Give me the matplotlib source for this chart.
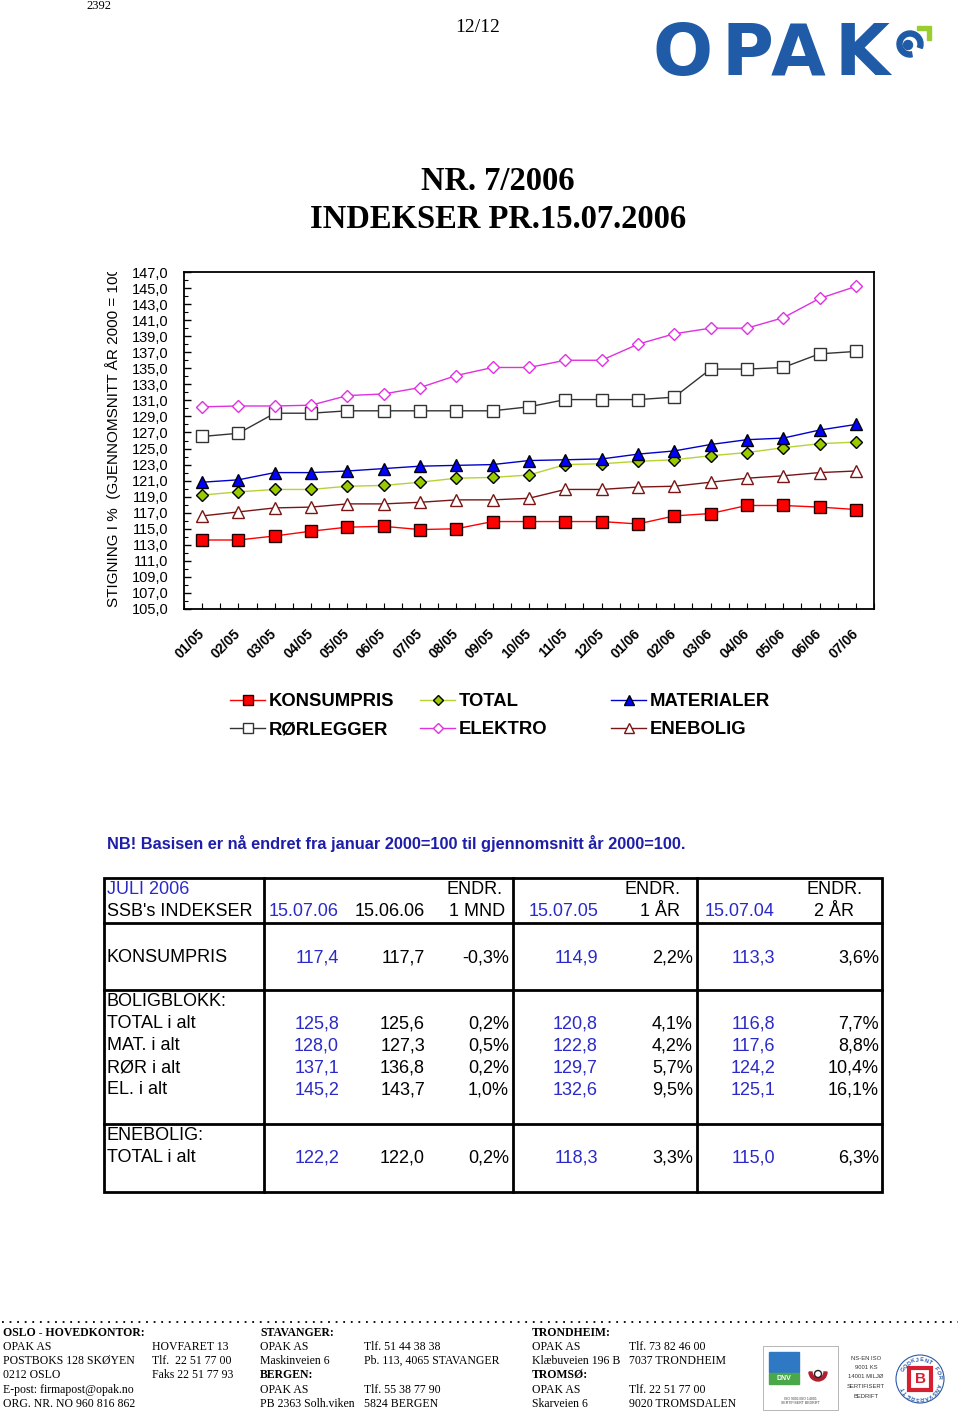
import matplotlib
matplotlib.use('Agg')
import matplotlib.pyplot as plt
import matplotlib.transforms as mtransforms
from matplotlib.patches import Rectangle, Circle, Wedge, Polygon
from matplotlib.ticker import MultipleLocator, FixedLocator
import numpy as np

# ---------------- data ----------------
months = ['01/05', '02/05', '03/05', '04/05', '05/05', '06/05', '07/05', '08/05', '09/05',
          '10/05', '11/05', '12/05', '01/06', '02/06', '03/06', '04/06', '05/06', '06/06', '07/06']
konsumpris = [113.6, 113.6, 114.1, 114.7, 115.2, 115.3, 114.9, 115.0, 115.9, 115.9,
              115.9, 115.9, 115.6, 116.6, 116.9, 117.9, 117.9, 117.7, 117.4]
total = [119.2, 119.6, 119.9, 119.9, 120.3, 120.4, 120.8, 121.3, 121.4, 121.7,
         123.0, 123.1, 123.4, 123.6, 124.1, 124.5, 125.1, 125.6, 125.8]
materialer = [120.8, 121.1, 122.0, 122.0, 122.2, 122.5, 122.8, 122.9, 123.0, 123.5,
              123.6, 123.7, 124.3, 124.7, 125.5, 126.1, 126.3, 127.3, 128.0]
rorlegger = [126.5, 126.9, 129.4, 129.4, 129.7, 129.7, 129.7, 129.7, 129.7, 130.2,
             131.1, 131.1, 131.1, 131.4, 134.9, 134.9, 135.1, 136.8, 137.1]
elektro = [130.2, 130.3, 130.3, 130.4, 131.6, 131.8, 132.6, 134.1, 135.1, 135.1,
           136.0, 136.0, 138.0, 139.3, 140.0, 140.0, 141.3, 143.7, 145.2]
enebolig = [116.6, 117.1, 117.6, 117.7, 118.1, 118.1, 118.3, 118.6, 118.6, 118.8,
            119.9, 119.9, 120.2, 120.3, 120.8, 121.3, 121.6, 122.0, 122.2]

y_tick_values = [105, 107, 109, 111, 113, 115, 117, 119, 121, 123, 125, 127, 129, 131,
                 133, 135, 137, 139, 141, 143, 145, 147]

# table data
row_labels = ['KONSUMPRIS', 'BOLIGBLOKK:', 'TOTAL i alt', 'MAT. i alt', 'RØR i alt', 'EL. i alt',
              'ENEBOLIG:', 'TOTAL i alt']
val_150706 = ['117,4', '', '125,8', '128,0', '137,1', '145,2', '', '122,2']
val_150606 = ['117,7', '', '125,6', '127,3', '136,8', '143,7', '', '122,0']
chg_1mnd = ['-0,3%', '', '0,2%', '0,5%', '0,2%', '1,0%', '', '0,2%']
val_150705 = ['114,9', '', '120,8', '122,8', '129,7', '132,6', '', '118,3']
chg_1ar = ['2,2%', '', '4,1%', '4,2%', '5,7%', '9,5%', '', '3,3%']
val_150704 = ['113,3', '', '116,8', '117,6', '124,2', '125,1', '', '115,0']
chg_2ar = ['3,6%', '', '7,7%', '8,8%', '10,4%', '16,1%', '', '6,3%']

# ---------------- figure ----------------
W, H = 960, 1418
fig = plt.figure(figsize=(W / 100, H / 100), dpi=100)
fig.patch.set_facecolor('white')

ov = fig.add_axes([0, 0, 1, 1])
ov.set_xlim(0, W)
ov.set_ylim(H, 0)
ov.axis('off')

SANS = 'Liberation Sans'
SERIF = 'Liberation Serif'

# header texts
ov.text(99, 6, '2392', ha='center', va='center', fontsize=9, family=SERIF)
ov.text(478, 27, '12/12', ha='center', va='center', fontsize=14, family=SERIF)

# OPAK logo
logo_col = '#1f5ba6'
for ch, cx in zip(['O', 'P', 'A', 'K'], [683, 747, 798, 862]):
    ov.text(cx, 75, ch, ha='center', va='baseline', fontsize=51, family='DejaVu Sans',
            weight='bold', color=logo_col)
ov.add_patch(Wedge((910, 44), 13, 80, 380, width=5, color=logo_col))
ov.add_patch(Circle((908, 45), 4.5, color=logo_col))
ov.add_patch(Polygon([[917, 26], [931, 26], [931, 40], [927, 40], [927, 30], [917, 30]],
                     closed=True, color='#9acd32'))

# title
ov.text(498, 181, 'NR. 7/2006', ha='center', va='center', fontsize=23.5, family=SERIF, weight='bold')
ov.text(498, 220, 'INDEKSER PR.15.07.2006', ha='center', va='center', fontsize=23.5,
        family=SERIF, weight='bold')

# ---------------- chart ----------------
ax_l, ax_r, ax_t, ax_b = 184, 874, 272, 609
ax = fig.add_axes([ax_l / W, 1 - ax_b / H, (ax_r - ax_l) / W, (ax_b - ax_t) / H])
x = np.arange(len(months))

l_kons, = ax.plot(x, konsumpris, color='#ff0000', lw=1.0, marker='s', ms=8,
                  mfc='#ff0000', mec='#200000', mew=1.0, label='KONSUMPRIS')
l_ror, = ax.plot(x, rorlegger, color='#333333', lw=1.0, marker='s', ms=8,
                 mfc='white', mec='#333333', mew=1.0, label='RØRLEGGER')
l_ele, = ax.plot(x, elektro, color='#e030e0', lw=1.0, marker='D', ms=6,
                 mfc='white', mec='#e030e0', mew=1.0, label='ELEKTRO')
l_ene, = ax.plot(x, enebolig, color='#7a1515', lw=1.0, marker='^', ms=8,
                 mfc='white', mec='#7a1515', mew=1.0, label='ENEBOLIG')
l_tot, = ax.plot(x, total, color='#b5d334', lw=1.0, marker='D', ms=6,
                 mfc='#99cc00', mec='black', mew=1.0, label='TOTAL')
l_mat, = ax.plot(x, materialer, color='#0000cc', lw=1.0, marker='^', ms=8,
                 mfc='#0000ff', mec='black', mew=1.0, label='MATERIALER')

ax.set_xlim(-0.5, len(months) - 0.5)
ax.set_ylim(105, 147)
ax.set_yticks(y_tick_values)
ax.set_yticklabels([f'{v:.1f}'.replace('.', ',') for v in y_tick_values], family=SANS, fontsize=10.5)
ax.yaxis.set_minor_locator(MultipleLocator(1))
ax.set_xticks(x)
ax.set_xticklabels(months, rotation=45, ha='right', va='center', rotation_mode='anchor',
                   family=SANS, fontsize=10, weight='bold')
shift = mtransforms.ScaledTranslation(-5 / 100, 0, fig.dpi_scale_trans)
for lbl in ax.get_xticklabels():
    lbl.set_transform(lbl.get_transform() + shift)
ax.xaxis.set_minor_locator(FixedLocator(np.arange(len(months) + 1) - 0.5))
ax.tick_params(axis='y', which='major', direction='in', length=5, width=1, pad=11)
ax.tick_params(axis='y', which='minor', direction='in', length=3, width=0.8)
ax.tick_params(axis='x', which='major', direction='in', length=4, width=0.8, pad=16)
ax.tick_params(axis='x', which='minor', direction='in', length=4, width=0.8)
for s in ax.spines.values():
    s.set_linewidth(1.3)
    s.set_color('black')

# y-label (clipped like in the original)
lab_ax = fig.add_axes([100 / W, 1 - ax_b / H, 28 / W, (ax_b - ax_t) / H])
lab_ax.axis('off')
lab_ax.text(0.46, 0.005, 'STIGNING I %  (GJENNOMSNITT ÅR 2000 = 100)', rotation=90,
            ha='center', va='bottom', fontsize=11, family=SANS, clip_on=True,
            transform=lab_ax.transAxes)

# legend in three columns
leg_cols = [([l_kons, l_ror], 230), ([l_tot, l_ele], 420), ([l_mat, l_ene], 611)]
for handles, lx in leg_cols:
    fig.legend(handles=handles, labels=[h.get_label() for h in handles], loc='upper left',
               bbox_to_anchor=(lx / W, 1 - 693 / H), frameon=False,
               prop={'family': SANS, 'weight': 'bold', 'size': 13.3},
               handlelength=1.9, handletextpad=0.2, labelspacing=0.62,
               borderpad=0, borderaxespad=0, markerscale=0.85)

# ---------------- note + table ----------------
ov.text(107, 844, 'NB! Basisen er nå endret fra januar 2000=100 til gjennomsnitt år 2000=100.',
        ha='left', va='center', fontsize=11.8, family=SANS, weight='bold', color='#1e1eaa')

blue = '#2a2ac8'
tl, tr, tt, tb = 104, 882, 878, 1192
ov.add_patch(Rectangle((tl, tt), tr - tl, tb - tt, fill=False, lw=2, ec='black'))
for vx in [264, 513, 697]:
    ov.plot([vx, vx], [tt, tb], color='black', lw=2)
for hy in [923, 990, 1124]:
    ov.plot([tl, tr], [hy, hy], color='black', lw=2)

TF = 13
ov.text(107, 890, 'JULI 2006', ha='left', va='center', fontsize=TF, family=SANS, color=blue)
ov.text(107, 912, "SSB's INDEKSER", ha='left', va='center', fontsize=TF, family=SANS)
ov.text(339, 912, '15.07.06', ha='right', va='center', fontsize=TF, family=SANS, color=blue)
ov.text(425, 912, '15.06.06', ha='right', va='center', fontsize=TF, family=SANS)
ov.text(475, 890, 'ENDR.', ha='center', va='center', fontsize=TF, family=SANS)
ov.text(477, 912, '1 MND', ha='center', va='center', fontsize=TF, family=SANS)
ov.text(598, 912, '15.07.05', ha='right', va='center', fontsize=TF, family=SANS, color=blue)
ov.text(653, 890, 'ENDR.', ha='center', va='center', fontsize=TF, family=SANS)
ov.text(660, 912, '1 ÅR', ha='center', va='center', fontsize=TF, family=SANS)
ov.text(775, 912, '15.07.04', ha='right', va='center', fontsize=TF, family=SANS, color=blue)
ov.text(834, 890, 'ENDR.', ha='center', va='center', fontsize=TF, family=SANS)
ov.text(834, 912, '2 ÅR', ha='center', va='center', fontsize=TF, family=SANS)

row_y = [958, 1002, 1024, 1046, 1068, 1090, 1136, 1158]
cols = [(val_150706, 339, blue), (val_150606, 425, 'black'), (chg_1mnd, 509, 'black'),
        (val_150705, 598, blue), (chg_1ar, 693, 'black'), (val_150704, 775, blue),
        (chg_2ar, 879, 'black')]
for i, ry in enumerate(row_y):
    ov.text(107, ry, row_labels[i], ha='left', va='center', fontsize=TF, family=SANS)
    for vals, cx, col in cols:
        if vals[i]:
            ov.text(cx, ry, vals[i], ha='right', va='center', fontsize=TF, family=SANS, color=col)

# ---------------- footer ----------------
ov.plot([2, 958], [1322, 1322], color='black', lw=1.3, linestyle=(0, (1, 3.2)))
FF = 8.5
footer = [
    (3, 1333, 'OSLO - HOVEDKONTOR:', True), (3, 1347, 'OPAK AS', False),
    (3, 1361, 'POSTBOKS 128 SKØYEN', False), (3, 1375, '0212 OSLO', False),
    (3, 1390, 'E-post: firmapost@opak.no', False), (3, 1404, 'ORG. NR. NO 960 816 862', False),
    (152, 1347, 'HOVFARET 13', False), (152, 1361, 'Tlf.  22 51 77 00', False),
    (152, 1375, 'Faks 22 51 77 93', False),
    (260, 1333, 'STAVANGER:', True), (260, 1347, 'OPAK AS', False),
    (260, 1361, 'Maskinveien 6', False), (260, 1375, 'BERGEN:', True),
    (260, 1390, 'OPAK AS', False), (260, 1404, 'PB 2363 Solh.viken', False),
    (364, 1347, 'Tlf. 51 44 38 38', False), (364, 1361, 'Pb. 113, 4065 STAVANGER', False),
    (364, 1390, 'Tlf. 55 38 77 90', False), (364, 1404, '5824 BERGEN', False),
    (532, 1333, 'TRONDHEIM:', True), (532, 1347, 'OPAK AS', False),
    (532, 1361, 'Klæbuveien 196 B', False), (532, 1375, 'TROMSØ:', True),
    (532, 1390, 'OPAK AS', False), (532, 1404, 'Skarveien 6', False),
    (629, 1347, 'Tlf. 73 82 46 00', False), (629, 1361, '7037 TRONDHEIM', False),
    (629, 1390, 'Tlf. 22 51 77 00', False), (629, 1404, '9020 TROMSDALEN', False),
]
for fx, fy, s, b in footer:
    ov.text(fx, fy, s, ha='left', va='center', fontsize=FF, family=SERIF,
            weight='bold' if b else 'normal')

# certification badges (simplified)
ov.add_patch(Rectangle((763, 1346), 75, 64, fill=False, lw=0.6, ec='#aaaaaa'))
ov.add_patch(Rectangle((769, 1352), 30, 20, color='#2f78c4'))
ov.add_patch(Rectangle((769, 1373), 30, 11, color='#4aa84a'))
ov.text(784, 1378.5, 'DNV', ha='center', va='center', fontsize=5, color='white', weight='bold',
        family=SANS)
ov.add_patch(Wedge((818, 1372), 9, 0, 180, width=3, color='#b02030'))
ov.add_patch(Circle((818, 1374), 3.5, fill=False, lw=1.0, ec='#222222'))
ov.text(800, 1401, 'ISO 9001/ISO 14001\nSERTIFISERT BEDRIFT', ha='center', va='center',
        fontsize=2.5, family=SANS, color='#444444')
for k, s in enumerate(['NS-EN ISO', '9001 KS', '14001 MILJØ', 'SERTIFISERT', 'BEDRIFT']):
    ov.text(866, 1358 + k * 9.5, s, ha='center', va='center', fontsize=4.2, family=SANS,
            color='#333333')
ov.add_patch(Circle((920, 1379), 24, fill=False, lw=0.8, ec='#2a5aa8'))
ov.add_patch(Rectangle((909, 1368), 22, 22, fill=False, lw=3, ec='#d42030'))
ov.text(920, 1379, 'B', ha='center', va='center', fontsize=11, family=SANS, weight='bold',
        color='#d42030')
circ_txt = 'GODKJENT FOR ANSVARSRETT'
angs = np.linspace(150, -150, len(circ_txt))
for ch, a in zip(circ_txt, angs):
    r = 19
    px = 920 + r * np.cos(np.deg2rad(a))
    py = 1379 - r * np.sin(np.deg2rad(a))
    ov.text(px, py, ch, ha='center', va='center', fontsize=4, family=SANS, weight='bold',
            color='#2a5aa8', rotation=a - 90)

fig.savefig('out.png', dpi=100, facecolor='white')
